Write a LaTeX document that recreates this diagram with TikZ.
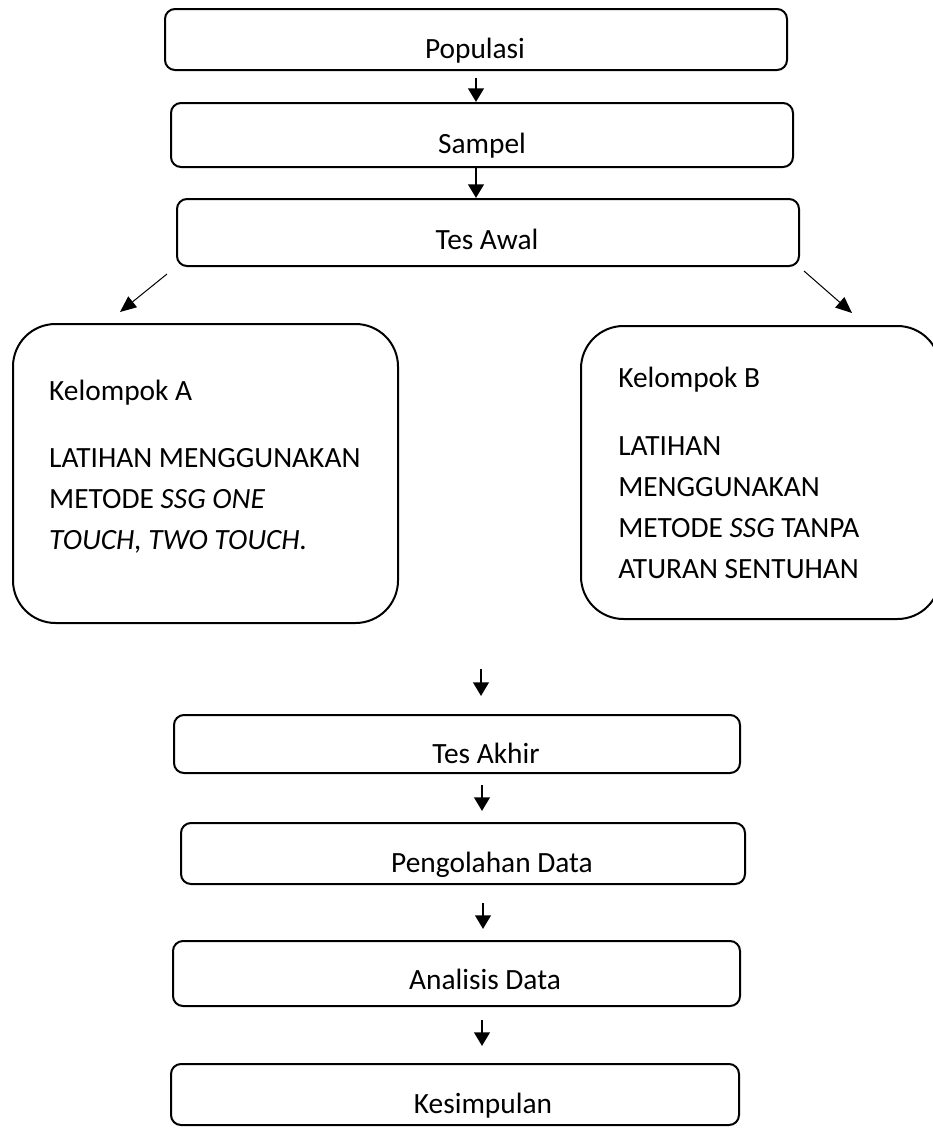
\documentclass[tikz,border=0pt]{standalone}
\usepackage{fontspec}
\setmainfont{Carlito}
\usetikzlibrary{arrows.meta,calc,fit}
\tikzstyle{flowbox} = [draw, line width=1.6pt, rounded corners=8pt, inner sep=0pt]
\tikzstyle{groupbox} = [flowbox, rounded corners=34pt]
\tikzstyle{label} = [anchor=base, inner sep=0pt]
\tikzstyle{grouptext} = [anchor=base west, inner sep=0pt, align=left]
\tikzstyle{arrow} = [draw, line width=2pt, -{Triangle[length=11pt,width=12.5pt]}]
\tikzstyle{thinarrow} = [draw, line width=0.8pt, -{Triangle[length=13pt,width=11pt]}]

\begin{document}
\begin{tikzpicture}[x=0.8pt, y=-0.8pt, font=\fontsize{23.5}{32.8}\selectfont]
      \useasboundingbox (0,0) rectangle (933,1130);

      % boxes above the split
      \node[flowbox, fit={(165,9) (787,70)}] (popu) {};
      \node[label] (popuT) at (475,58) {Populasi};
      \node[flowbox, fit={(171,103) (793,167)}] (sampel) {};
      \node[label] (sampelT) at (482,153) {Sampel};
      \node[flowbox, fit={(177,199) (799,266)}] (awal) {};
      \node[label] (awalT) at (487,249) {Tes Awal};

      % the two groups (base = last line)
      \node[groupbox, fit={(13,324) (398,623)}] (kelA) {};
      \node[grouptext] (kelAT) at (49,549) {Kelompok A\\[20.8pt]
        LATIHAN MENGGUNAKAN\\
        METODE \textit{SSG ONE}\\
        \textit{TOUCH, TWO TOUCH.}};
      \node[groupbox, fit={(581,326) (940,619)}] (kelB) {};
      \node[grouptext] (kelBT) at (618,578) {Kelompok B\\[21.6pt]
        LATIHAN\\
        MENGGUNAKAN\\
        METODE \textit{SSG} TANPA\\
        ATURAN SENTUHAN};

      % boxes below the split
      \node[flowbox, fit={(174,715) (740,773)}] (akhir) {};
      \node[label] (akhirT) at (486,763) {Tes Akhir};
      \node[flowbox, fit={(181,823) (745,884)}] (olah) {};
      \node[label] (olahT) at (492,872) {Pengolahan Data};
      \node[flowbox, fit={(173,941) (740,1006)}] (analisis) {};
      \node[label] (analisisT) at (485,989) {Analisis Data};
      \node[flowbox, fit={(171,1064) (739,1125)}] (simpul) {};
      \node[label] (simpulT) at (483,1113) {Kesimpulan};

      \coordinate (masuk) at (481,669);

      % arrows
      \draw[arrow, shorten <=5.6pt] (popu.south -| 476,0) -- (sampel.north -| 476,0);
      \draw[arrow] (sampel.south -| 476,0) -- (awal.north -| 476,0);
      \draw[thinarrow] ($(awal.south west)+(-9,7)$) -- ($(kelA.north west)+(108,-11)$);
      \draw[thinarrow] ($(awal.south east)+(4,4)$) -- ($(kelB.north east)+(-89,-12)$);
      \draw[arrow, shorten >=14.4pt] (masuk) -- (masuk |- akhir.north);
      \draw[arrow, shorten <=8.8pt, shorten >=8.8pt] (akhir.south -| 482,0) -- (olah.north -| 482,0);
      \draw[arrow, shorten <=14.4pt, shorten >=8.8pt] (olah.south -| 483,0) -- (analisis.north -| 483,0);
      \draw[arrow, shorten <=10.4pt, shorten >=13.6pt] (analisis.south -| 482,0) -- (simpul.north -| 482,0);
    \end{tikzpicture}
\end{document}
